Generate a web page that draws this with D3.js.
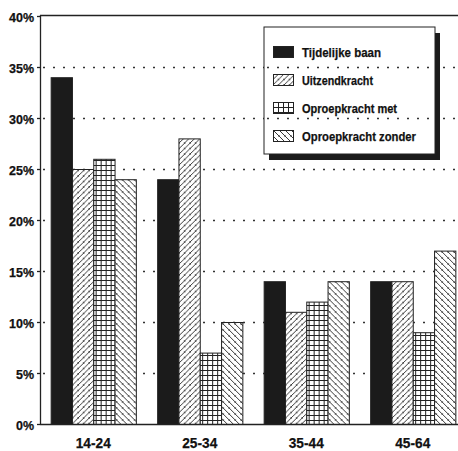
<!DOCTYPE html>
<html>
<head>
<meta charset="utf-8">
<script src="https://cdn.jsdelivr.net/npm/d3@7"></script>
<style>
  html, body { margin: 0; padding: 0; background: #fff; }
  svg { display: block; }
  text { font-family: "Liberation Sans", Arial, sans-serif; font-weight: bold; fill: #111; stroke: #111; stroke-width: 0.25px; }
</style>
</head>
<body>
<svg id="chart" width="458" height="451"></svg>
<script>
// Age groups along the x axis
const ageGroups = ["14-24", "25-34", "35-44", "45-64"];
// Kinds of flexible work (one bar per kind in each group)
const series = ["Tijdelijke baan", "Uitzendkracht", "Oproepkracht met", "Oproepkracht zonder"];
// Share per age group, in the order of the series above
const tijdelijkeBaan     = [0.34, 0.24, 0.14, 0.14];
const uitzendkracht      = [0.25, 0.28, 0.11, 0.14];
const oproepkrachtMet    = [0.26, 0.07, 0.12, 0.09];
const oproepkrachtZonder = [0.24, 0.10, 0.14, 0.17];
// Value-axis ticks
const yTicks = [0, 0.05, 0.10, 0.15, 0.20, 0.25, 0.30, 0.35, 0.40];

const values = [tijdelijkeBaan, uitzendkracht, oproepkrachtMet, oproepkrachtZonder];
const rows = ageGroups.map((g, i) => ({ group: g, vals: series.map((s, j) => ({ key: s, value: values[j][i] })) }));

const svg = d3.select("#chart");
const plotLeft = 40, plotTop = 16, plotBottom = 424, plotRight = 466;

const x = d3.scaleBand().domain(ageGroups).range([plotLeft, plotRight]).paddingInner(0.2).paddingOuter(0.1);
const xs = d3.scaleBand().domain(series).range([0, x.bandwidth()]);
const y = d3.scaleLinear().domain([0, 0.40]).range([plotBottom, plotTop]);

// Fill patterns for the four series
const defs = svg.append("defs");
const fills = {};
fills[series[0]] = "#1b1b1b";

const p1 = defs.append("pattern").attr("id", "hatchUp").attr("patternUnits", "userSpaceOnUse")
  .attr("width", 5.5).attr("height", 5.5);
p1.append("rect").attr("width", 5.5).attr("height", 5.5).attr("fill", "#fff");
p1.append("path").attr("d", "M-1,1.5 L1.5,-1 M0,5.5 L5.5,0 M4,6.5 L6.5,4")
  .attr("stroke", "#222").attr("stroke-width", 0.9);
fills[series[1]] = "url(#hatchUp)";

const p2 = defs.append("pattern").attr("id", "grid").attr("patternUnits", "userSpaceOnUse")
  .attr("width", 5).attr("height", 5);
p2.append("rect").attr("width", 5).attr("height", 5).attr("fill", "#fff");
p2.append("path").attr("d", "M0.5,0 V5 M0,0.5 H5").attr("stroke", "#222").attr("stroke-width", 1);
fills[series[2]] = "url(#grid)";

const p3 = defs.append("pattern").attr("id", "hatchDown").attr("patternUnits", "userSpaceOnUse")
  .attr("width", 6).attr("height", 6);
p3.append("rect").attr("width", 6).attr("height", 6).attr("fill", "#fff");
p3.append("path").attr("d", "M-1,4.5 L1.5,7 M0,0 L6,6 M4.5,-1 L7,1.5")
  .attr("stroke", "#222").attr("stroke-width", 0.9);
fills[series[3]] = "url(#hatchDown)";

const dotStyle = sel => sel.attr("stroke", "#333").attr("stroke-width", 1.4).attr("stroke-dasharray", "2,8");

// Dotted gridlines
svg.append("g").selectAll("line").data(yTicks.filter(t => t > 0 && t < 0.40)).join("line")
  .attr("x1", plotLeft + 3).attr("x2", 458)
  .attr("y1", d => y(d) + 0.5).attr("y2", d => y(d) + 0.5)
  .call(dotStyle);

// Legend (box with drop shadow)
const lg = svg.append("g");
const lx = 264, ly = 27, lw = 171, lh = 127;
lg.append("rect").attr("x", lx + 5).attr("y", ly + 6).attr("width", lw).attr("height", lh).attr("fill", "#1b1b1b");
lg.append("rect").attr("x", lx).attr("y", ly).attr("width", lw).attr("height", lh).attr("fill", "#fff")
  .attr("stroke", "#222").attr("stroke-width", 1);

// Dotted lines continue through the legend box
lg.append("g").selectAll("line").data(yTicks.filter(t => y(t) > ly && y(t) < ly + lh)).join("line")
  .attr("x1", lx + 1).attr("x2", lx + lw - 1)
  .attr("y1", d => y(d) + 0.5).attr("y2", d => y(d) + 0.5)
  .call(dotStyle)
  .attr("stroke-dashoffset", -(lx + 1 - plotLeft - 3));

const labelWidths = { "Tijdelijke baan": 79, "Uitzendkracht": 71, "Oproepkracht met": 95, "Oproepkracht zonder": 114 };
const items = lg.selectAll("g.item").data(series).join("g").attr("class", "item")
  .attr("transform", (d, i) => `translate(${lx + 9},${ly + 19 + i * 28})`);
items.append("rect").attr("x", 0.5).attr("y", 0.5).attr("width", 20).attr("height", 11)
  .attr("fill", d => fills[d]).attr("stroke", "#222").attr("stroke-width", 1);
items.append("text").attr("x", 29).attr("y", 10.5).attr("font-size", 13)
  .attr("textLength", d => labelWidths[d])
  .attr("lengthAdjust", "spacingAndGlyphs")
  .text(d => d);

// Bars
const groups = svg.append("g").selectAll("g").data(rows).join("g")
  .attr("transform", d => `translate(${x(d.group)},0)`);
groups.selectAll("rect").data(d => d.vals).join("rect")
  .attr("x", d => xs(d.key) + 0.5)
  .attr("y", d => y(d.value) + 0.5)
  .attr("width", xs.bandwidth())
  .attr("height", d => plotBottom - y(d.value))
  .attr("fill", d => fills[d.key])
  .attr("stroke", "#222").attr("stroke-width", 1);

// Frame: left axis, top border, baseline
svg.append("line").attr("x1", plotLeft + 0.5).attr("x2", plotLeft + 0.5).attr("y1", plotTop - 1).attr("y2", plotBottom + 1)
  .attr("stroke", "#222").attr("stroke-width", 1.3);
svg.append("line").attr("x1", plotLeft).attr("x2", 458).attr("y1", plotTop - 0.5).attr("y2", plotTop - 0.5)
  .attr("stroke", "#222").attr("stroke-width", 1.3);
svg.append("line").attr("x1", plotLeft).attr("x2", 458).attr("y1", plotBottom + 0.5).attr("y2", plotBottom + 0.5)
  .attr("stroke", "#222").attr("stroke-width", 1.3);

// Y axis labels and ticks
const yAxis = d3.axisLeft(y).tickValues(yTicks).tickFormat(d3.format(".0%")).tickSize(3).tickPadding(3);
const ya = svg.append("g").attr("transform", `translate(${plotLeft},0)`).call(yAxis);
ya.select(".domain").remove();
ya.selectAll(".tick line").attr("stroke", "#222").attr("stroke-width", 1.3);
ya.selectAll(".tick text").attr("font-size", 13).attr("font-family", "Liberation Sans, Arial, sans-serif")
  .attr("font-weight", "bold").attr("fill", "#111").attr("dy", "0.45em")
  .attr("textLength", d => d >= 0.1 ? 25 : 18).attr("lengthAdjust", "spacingAndGlyphs");

// X axis labels
const xAxis = d3.axisBottom(x).tickSize(0).tickPadding(13);
const xa = svg.append("g").attr("transform", `translate(0,${plotBottom})`).call(xAxis);
xa.select(".domain").remove();
xa.selectAll(".tick text").attr("font-size", 15.5).attr("font-family", "Liberation Sans, Arial, sans-serif")
  .attr("font-weight", "bold").attr("fill", "#111")
  .attr("textLength", 35).attr("lengthAdjust", "spacingAndGlyphs");
</script>
</body>
</html>
